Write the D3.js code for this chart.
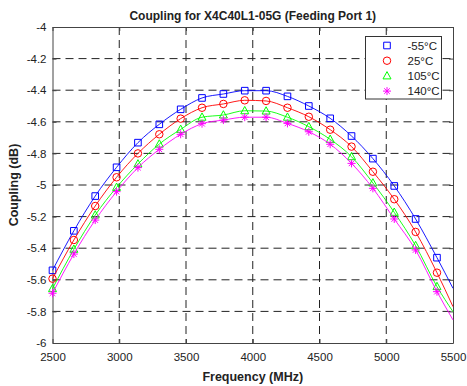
<!DOCTYPE html>
<html>
<head>
<meta charset="utf-8">
<script src="https://cdn.jsdelivr.net/npm/d3@7"></script>
<style>
  body { margin: 0; background: #fff; }
  text { font-family: "Liberation Sans", Arial, sans-serif; }
</style>
</head>
<body>
<div id="chart"></div>
<script>
// Measured points, one marker every 160 MHz; line runs on to 5500 MHz.
const freqs = [2500, 2660, 2820, 2980, 3140, 3300, 3460, 3620, 3780, 3940,
               4100, 4260, 4420, 4580, 4740, 4900, 5060, 5220, 5380];
const endFreq = 5500;
const seriesNames = ["-55°C", "25°C", "105°C", "140°C"];
const coupM55 = [-5.54, -5.29, -5.07, -4.888, -4.732, -4.616, -4.521, -4.449, -4.424, -4.403,
                 -4.403, -4.439, -4.500, -4.578, -4.690, -4.833, -5.006, -5.215, -5.460];
const coup25  = [-5.593, -5.348, -5.133, -4.951, -4.800, -4.679, -4.580, -4.511, -4.487, -4.464,
                 -4.468, -4.511, -4.568, -4.650, -4.757, -4.916, -5.090, -5.297, -5.555];
const coup105 = [-5.656, -5.407, -5.190, -5.015, -4.867, -4.741, -4.648, -4.571, -4.557, -4.530,
                 -4.532, -4.571, -4.631, -4.711, -4.821, -4.987, -5.173, -5.384, -5.643];
const coup140 = [-5.685, -5.437, -5.222, -5.042, -4.890, -4.774, -4.679, -4.612, -4.589, -4.571,
                 -4.571, -4.610, -4.663, -4.742, -4.863, -5.021, -5.215, -5.411, -5.675];
const endValues = [-5.654, -5.770, -5.802, -5.854];
const xTicks = [2500, 3000, 3500, 4000, 4500, 5000, 5500];
const yTicks = [-6, -5.8, -5.6, -5.4, -5.2, -5, -4.8, -4.6, -4.4, -4.2, -4];

const colors = ["#0000ff", "#ff0000", "#00ff00", "#ff00ff"];
const shapes = ["square", "circle", "triangle", "star"];
const values = [coupM55, coup25, coup105, coup140];

const width = 467, height = 386;
const margin = { top: 27, right: 14, bottom: 43, left: 52.5 };

const svg = d3.select("#chart").append("svg")
  .attr("width", width).attr("height", height);

const x = d3.scaleLinear().domain([2500, 5500]).range([margin.left, width - margin.right]);
const y = d3.scaleLinear().domain([-6, -4]).range([height - margin.bottom, margin.top]);

// dashed grid
svg.append("g").selectAll("line").data(xTicks.slice(1, -1)).join("line")
  .attr("x1", d => x(d)).attr("x2", d => x(d))
  .attr("y1", y(-4)).attr("y2", y(-6))
  .attr("stroke", "#222").attr("stroke-dasharray", "8,5");
svg.append("g").selectAll("line").data(yTicks.slice(1, -1)).join("line")
  .attr("x1", x(2500)).attr("x2", x(5500))
  .attr("y1", d => y(d)).attr("y2", d => y(d))
  .attr("stroke", "#222").attr("stroke-dasharray", "8,5");

// axes with inward ticks, box on
const fmt = d => String(+d.toFixed(1));
const styleAxis = g => {
  g.select(".domain").attr("stroke", "#444");
  g.selectAll(".tick line").attr("stroke", "#444");
  g.selectAll("text").attr("font-size", 11.5).attr("fill", "#222")
    .attr("font-family", '"Liberation Sans", Arial, sans-serif');
};
svg.append("g").attr("transform", `translate(0,${y(-6)})`)
  .call(d3.axisBottom(x).tickValues(xTicks).tickFormat(d3.format("d"))
    .tickSizeInner(-4).tickSizeOuter(0).tickPadding(10))
  .call(styleAxis);
svg.append("g").attr("transform", `translate(${x(2500)},0)`)
  .call(d3.axisLeft(y).tickValues(yTicks).tickFormat(fmt)
    .tickSizeInner(-4).tickSizeOuter(0).tickPadding(6))
  .call(styleAxis);
svg.append("g").attr("transform", `translate(0,${y(-4)})`)
  .call(d3.axisTop(x).tickValues(xTicks).tickFormat("")
    .tickSizeInner(-4).tickSizeOuter(0))
  .call(styleAxis);
svg.append("g").attr("transform", `translate(${x(5500)},0)`)
  .call(d3.axisRight(y).tickValues(yTicks).tickFormat("")
    .tickSizeInner(-4).tickSizeOuter(0))
  .call(styleAxis);

// marker paths centred on 0,0
function markerPath(shape) {
  if (shape === "square") return "M-3.3,-3.3H3.3V3.3H-3.3Z";
  if (shape === "circle") return d3.symbol(d3.symbolCircle, 44)();
  if (shape === "triangle") return "M0,-4.3L4,3L-4,3Z";
  return "M0,-4V4M-4,0H4M-2.8,-2.8L2.8,2.8M-2.8,2.8L2.8,-2.8";
}

const line = d3.line().x(d => x(d[0])).y(d => y(d[1])).curve(d3.curveMonotoneX);

values.forEach((vals, i) => {
  const pts = freqs.map((f, j) => [f, vals[j]]);
  const g = svg.append("g");
  g.append("path").datum(pts.concat([[endFreq, endValues[i]]]))
    .attr("d", line).attr("fill", "none")
    .attr("stroke", colors[i]).attr("stroke-width", 0.9);
  g.selectAll("path.m").data(pts).join("path").attr("class", "m")
    .attr("transform", d => `translate(${x(d[0])},${y(d[1])})`)
    .attr("d", markerPath(shapes[i]))
    .attr("fill", "none").attr("stroke", colors[i]).attr("stroke-width", 1);
});

// legend
const lg = svg.append("g").attr("transform", "translate(365.5,36.5)");
lg.append("rect").attr("width", 76).attr("height", 62.5)
  .attr("fill", "#fff").attr("stroke", "#333");
seriesNames.forEach((name, i) => {
  const cy = 9 + i * 15.2;
  lg.append("path").attr("transform", `translate(21.5,${cy})`)
    .attr("d", markerPath(shapes[i]))
    .attr("fill", "none").attr("stroke", colors[i]);
  lg.append("text").attr("x", 42).attr("y", cy + 4)
    .attr("font-size", 11.5).attr("fill", "#222").text(name);
});

// titles
svg.append("text").attr("x", (x(2500) + x(5500)) / 2).attr("y", 20)
  .attr("text-anchor", "middle").attr("font-weight", "bold").attr("font-size", 12)
  .attr("fill", "#222").text("Coupling for X4C40L1-05G (Feeding Port 1)");
svg.append("text").attr("x", (x(2500) + x(5500)) / 2).attr("y", 381)
  .attr("text-anchor", "middle").attr("font-weight", "bold").attr("font-size", 12.5)
  .attr("fill", "#222").text("Frequency (MHz)");
svg.append("text").attr("transform", `translate(18,${(y(-4) + y(-6)) / 2}) rotate(-90)`)
  .attr("text-anchor", "middle").attr("font-weight", "bold").attr("font-size", 12.5)
  .attr("fill", "#222").text("Coupling (dB)");
</script>
</body>
</html>
